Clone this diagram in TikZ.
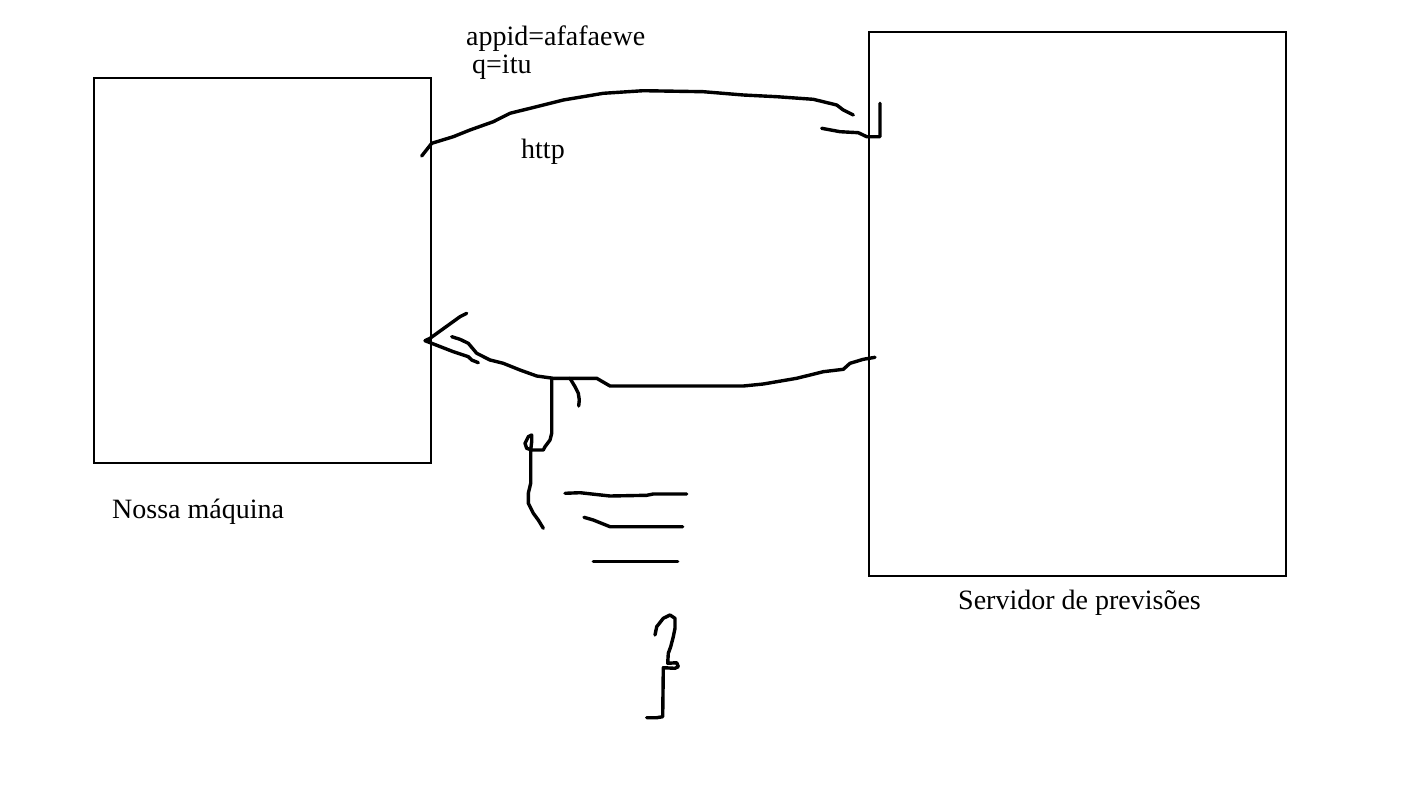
\documentclass[tikz,border=0pt]{standalone}
\usepackage{fontspec}
\setmainfont{Liberation Serif}
\begin{document}
\begin{tikzpicture}[x=1pt,y=-1pt,
  box/.style={draw=black,line width=1.4pt},
  lbl/.style={anchor=base west,inner sep=0pt,font=\fontsize{28}{32}\selectfont},
  ink/.style={draw=black,line width=3.4pt,line join=round,line cap=round}]
\fill[white] (0,0) rectangle (1424,792);
\useasboundingbox (0,0) rectangle (1424,792);
% boxes
\draw[box] (94,78) rectangle (431,463);
\draw[box] (869,32) rectangle (1286,576);
\coordinate (machine) at (262.5,270.5);
\coordinate (server) at (1077.5,304);
% labels
\node[lbl] (lmach) at (112,518) {Nossa máquina};
\node[lbl] (lserv) at (958,609) {Servidor de previsões};
\node[lbl] (lapp) at (466,46) {appid=afafaewe};
\node[lbl] (lq) at (472,74) {q=itu};
\node[lbl] (lhttp) at (521,158) {http};
% upper request arc
\draw[ink] (421.7,156) -- (431.7,143.3) -- (453.3,136.7) -- (470,130) -- (493.3,121.7) -- (510,113.3) -- (543.3,105) -- (563.3,100) -- (603.3,93.3) -- (643.3,90.7) -- (703.3,91.7) -- (743.3,95) -- (776.7,96.7) -- (813.3,99.3) -- (836.7,105) -- (843.3,110) -- (853.3,115);
\draw[ink] (821.7,128.3) -- (840,131.7) -- (858.3,132.7) -- (866.7,136.7) -- (880,136.7) -- (880,103.3);
% lower response arc
\draw[ink] (875,357.3) -- (863.3,359.3) -- (850,363.3) -- (843.3,369.3) -- (823.3,371.7) -- (796.7,378.3) -- (763.3,384) -- (743.3,386) -- (610,386) -- (596.7,378.3) -- (553.3,378.3) -- (536.7,376) -- (520,370) -- (503.3,363.3) -- (490,360) -- (476.7,353.3) -- (468.3,343.3) -- (460,339.3) -- (451.7,336.7);
\draw[ink] (466.7,313.3) -- (460,316.7) -- (430,338.3) -- (425,340.7) -- (431.7,343.3) -- (453.3,351.7) -- (468.3,356.7) -- (471.7,360) -- (478.3,362.7);
% branch down
\draw[ink] (551.7,378.3) -- (551.7,433.3) -- (550,440) -- (545,446.7) -- (543.3,450) -- (531.7,450) -- (526.7,448.3) -- (525,443.3) -- (528.3,436.7) -- (531.7,435) -- (531.7,441.7) -- (530.7,450) -- (530.7,483.3) -- (528.3,493.3) -- (528.3,503.3) -- (533.3,513.3) -- (538.3,520) -- (543.3,528.3);
\draw[ink] (570,378.3) -- (575,386.7) -- (578.3,393.3) -- (579.3,400) -- (578.7,406);
% lines
\draw[ink] (565,493.3) -- (580,492.7) -- (610,496) -- (646.7,495.3) -- (653.3,494) -- (686.7,494);
\draw[ink] (584,517.3) -- (593.3,520) -- (610,526.7) -- (682.7,526.7);
\draw[ink] (593.3,561.7) -- (677.7,561.7);
% question mark
\draw[ink] (655,635) -- (656.7,626.7) -- (663.3,618.3) -- (670,615) -- (675,618.3) -- (675,628.3) -- (673.3,636.7) -- (670.7,646.7) -- (668.3,653.3) -- (667.7,663.3) -- (676.7,662.7) -- (678.3,666.7) -- (675,668.3) -- (663.3,667.7) -- (662.7,716.7) -- (656.7,717.7) -- (646.7,717.7);
\end{tikzpicture}
\end{document}
